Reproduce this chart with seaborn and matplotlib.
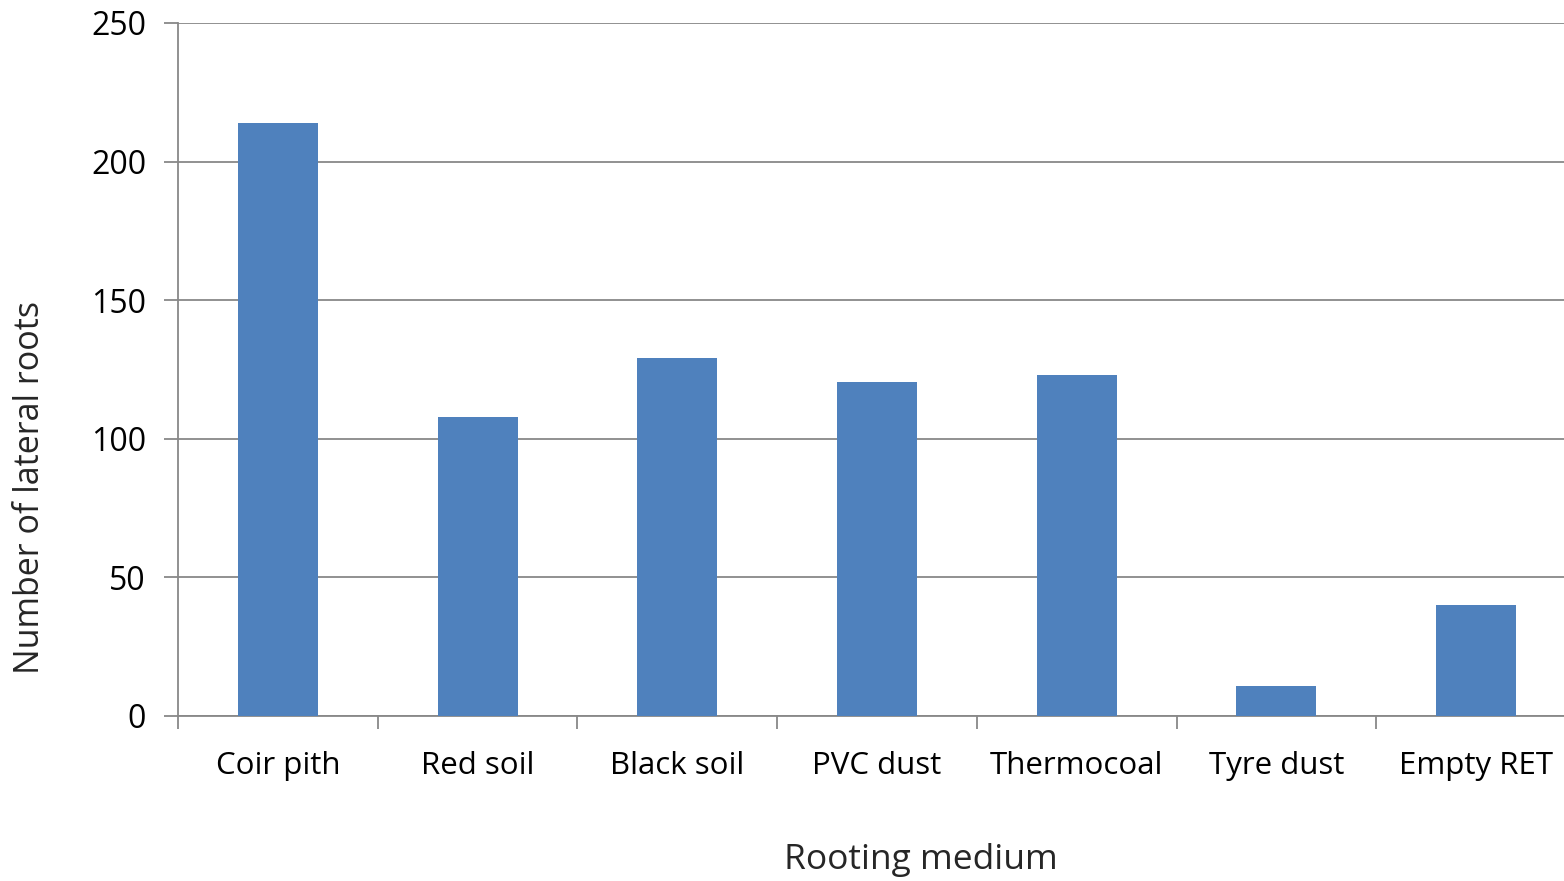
import matplotlib
matplotlib.use("Agg")
import matplotlib.pyplot as plt
import seaborn as sns
import pandas as pd
import numpy as np
import matplotlib.ticker as ticker

# data
media = ['Coir pith', 'Red soil', 'Black soil', 'PVC dust', 'Thermocoal', 'Tyre dust', 'Empty RET']
lateral_roots = [214, 108, 129, 120.5, 123, 11, 40]
y_ticks = [0, 50, 100, 150, 200, 250]

df = pd.DataFrame({'medium': media, 'roots': lateral_roots})

sns.set_style('white')
plt.rcParams['font.family'] = ['Open Sans', 'DejaVu Sans']

fig = plt.figure(figsize=(15.64, 8.81), dpi=100)
# plot area runs slightly past the right edge of the image, as in the original
ax = fig.add_axes([178 / 1564, 1 - 716 / 881, (1576 - 178) / 1564, (716 - 23) / 881])

sns.barplot(data=df, x='medium', y='roots', color='#4F81BD', saturation=1,
            width=0.40, linewidth=0, ax=ax, zorder=3)

ax.set_ylim(0, 250)
ax.set_xlim(-0.5, len(media) - 0.5)
ax.set_yticks(y_ticks)
ax.yaxis.grid(True, color='#888888', linewidth=1.3, zorder=0)
ax.set_axisbelow(True)

# category separators on the x axis
ax.xaxis.set_minor_locator(ticker.FixedLocator(np.arange(-0.5, len(media), 1.0)))
ax.tick_params(axis='x', which='major', bottom=True, length=0, pad=25, labelsize=22.5, colors='black')
ax.tick_params(axis='x', which='minor', bottom=True, length=9, width=1.3, color='#888888', direction='out')
ax.tick_params(axis='y', left=True, length=10, width=1.3, color='#888888', direction='out',
               pad=13, labelsize=23, labelcolor='black')

for s in ['top', 'right']:
    ax.spines[s].set_visible(False)
for s in ['left', 'bottom']:
    ax.spines[s].set_color('#888888')
    ax.spines[s].set_linewidth(1.3)

ax.set_xlabel('Rooting medium', fontsize=25.5, labelpad=44)
ax.set_ylabel('Number of lateral roots', fontsize=24.5, labelpad=26)
ax.xaxis.set_label_coords((921 - 178) / (1576 - 178), -(860 - 716) / 693, transform=ax.transAxes)
ax.yaxis.set_label_coords(-(178 - 30) / (1576 - 178), (716 - 487) / 693, transform=ax.transAxes)
ax.xaxis.label.set_va('center')
ax.yaxis.label.set_va('center')

plt.savefig('out.png', dpi=100)
